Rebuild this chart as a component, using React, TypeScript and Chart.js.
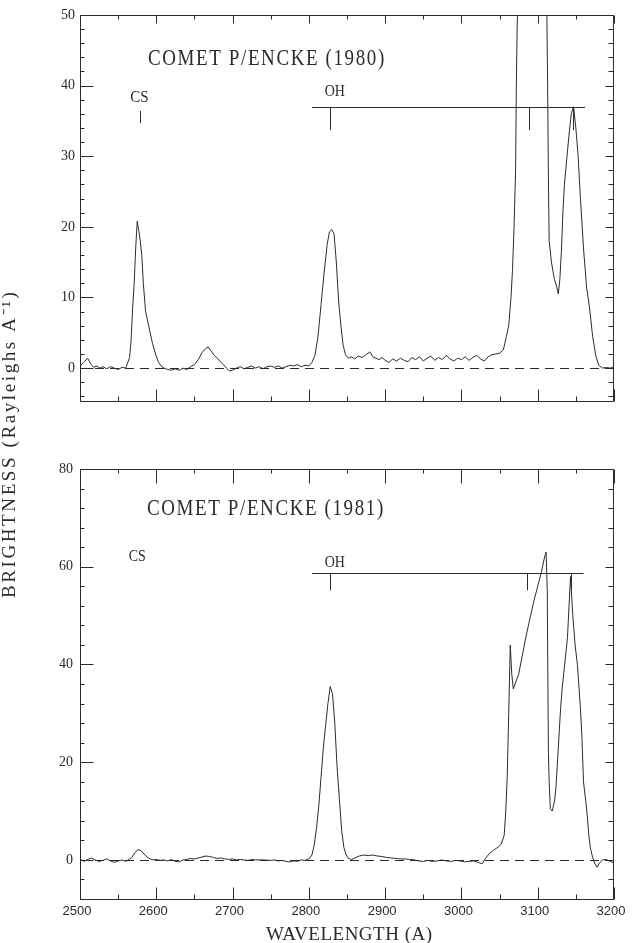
import React, { useEffect, useRef } from "react";
import { Chart, registerables } from "chart.js";

Chart.register(...registerables);

const INK = "#2b2b2b";

// ---- Data: Comet P/Encke 1980 (wavelength in Å, brightness in Rayleighs/Å)
const wavelength1980 = [
  2500, 2505, 2510, 2514, 2518, 2522, 2526, 2530, 2535, 2540, 2545, 2550, 2555, 2560,
  2565, 2567, 2569, 2571, 2573, 2575, 2577, 2579, 2581, 2583, 2586, 2589, 2592, 2595, 2599, 2603, 2608,
  2615, 2620, 2625, 2630, 2635, 2640, 2645, 2650, 2655, 2660, 2665, 2668, 2672, 2676, 2680, 2684, 2688,
  2692, 2696, 2700, 2705, 2710, 2715, 2720, 2725, 2730, 2735, 2740, 2745, 2750, 2755, 2760, 2765, 2770,
  2775, 2780, 2785, 2790, 2795, 2800, 2804, 2808, 2812, 2816, 2820, 2824, 2827, 2830, 2833, 2836, 2839,
  2842, 2845, 2848, 2852, 2856, 2860, 2865, 2870, 2875, 2880, 2884, 2888, 2892, 2896, 2900, 2905, 2910,
  2915, 2920, 2925, 2930, 2935, 2940, 2945, 2950, 2955, 2960, 2965, 2970, 2975, 2980, 2985, 2990, 2995,
  3000, 3005, 3010, 3015, 3020, 3025, 3030, 3035, 3040, 3045, 3050, 3055, 3059, 3062, 3065, 3067, 3069,
  3071, 3072, 3073, 3075, 3085, 3095, 3105, 3110, 3112, 3113, 3114, 3115, 3118, 3122, 3125, 3127, 3129,
  3131, 3133, 3135, 3138, 3141, 3144, 3147, 3150, 3153, 3156, 3160, 3164, 3168, 3172, 3176, 3180, 3185,
  3190, 3195, 3200,
];
const brightness1980 = [
  0.3, 0.8, 1.4, 0.6, 0.1, 0.3, 0.0, 0.2, -0.1, 0.2, 0.0, -0.2, 0.1, 0.0,
  1.5, 4.0, 8.5, 12.0, 17.0, 20.8, 19.5, 18.0, 16.0, 12.0, 8.0, 6.5, 5.0, 3.5, 2.0, 0.8, 0.1,
  -0.2, -0.3, -0.1, -0.3, 0.0, -0.2, 0.2, 0.5, 1.2, 2.2, 2.8, 3.0, 2.4, 1.8, 1.4, 0.9, 0.5,
  0.0, -0.4, -0.3, 0.0, 0.2, -0.1, 0.1, 0.3, 0.0, 0.2, -0.1, 0.2, 0.3, 0.1, 0.3, 0.0, 0.2,
  0.4, 0.3, 0.5, 0.2, 0.4, 0.3, 0.8, 1.8, 4.5, 9.0, 13.5, 17.5, 19.3, 19.6, 19.0, 15.0, 9.5,
  6.0, 3.2, 1.9, 1.4, 1.6, 1.3, 1.7, 1.5, 1.9, 2.3, 1.6, 1.4, 1.2, 1.5, 1.1, 0.8, 1.3,
  1.0, 1.4, 1.1, 0.9, 1.5, 1.2, 1.6, 1.0, 1.4, 1.7, 1.1, 1.5, 1.2, 1.8, 1.3, 1.0, 1.4,
  1.2, 1.6, 1.1, 1.5, 1.8, 1.3, 1.0, 1.6, 1.9, 2.0, 2.1, 2.6, 4.5, 6.0, 10.0, 14.0, 20.0,
  28.0, 40.0, 48.0, 56.0, 60.0, 62.0, 60.0, 56.0, 50.0, 40.0, 27.0, 18.0, 15.0, 12.5, 11.5, 10.5, 12.5,
  16.5, 22.0, 26.0, 29.5, 33.0, 36.0, 37.0, 34.0, 30.0, 24.0, 17.0, 11.5, 8.5, 4.5, 1.8, 0.4, 0.0,
  0.1, 0.0, 0.2,
];

// ---- Data: Comet P/Encke 1981
const wavelength1981 = [
  2500, 2505, 2510, 2515, 2520, 2525, 2530, 2535, 2540, 2545, 2550, 2555, 2560, 2565, 2568, 2572, 2576,
  2580, 2584, 2588, 2592, 2596, 2600, 2605, 2610, 2615, 2620, 2625, 2630, 2635, 2640, 2645, 2650, 2655,
  2660, 2665, 2670, 2675, 2680, 2685, 2690, 2695, 2700, 2705, 2710, 2715, 2720, 2725, 2730, 2740, 2750,
  2755, 2760, 2765, 2770, 2775, 2780, 2785, 2790, 2795, 2800, 2804, 2807, 2810, 2813, 2816, 2819, 2822,
  2825, 2828, 2831, 2834, 2837, 2840, 2843, 2846, 2849, 2852, 2856, 2860, 2866, 2872, 2878, 2884, 2890,
  2896, 2902, 2908, 2914, 2920, 2926, 2932, 2938, 2944, 2950, 2956, 2962, 2968, 2974, 2980, 2986, 2992,
  2998, 3004, 3010, 3016, 3022, 3027, 3031, 3036, 3042, 3048, 3052, 3056, 3058, 3060, 3062, 3064, 3066,
  3068, 3075, 3085, 3095, 3105, 3109, 3111, 3112.5, 3114, 3115, 3116.5, 3119, 3122, 3124, 3127, 3130,
  3132, 3135, 3139, 3143, 3146, 3149, 3152, 3156, 3158, 3160, 3163, 3165, 3167, 3169, 3172, 3175, 3178,
  3181, 3185, 3190, 3195, 3200,
];
const brightness1981 = [
  0.2, -0.3, 0.1, 0.4, 0.0, -0.3, -0.1, 0.2, -0.2, -0.5, -0.2, 0.0, -0.3, 0.2, 0.5, 1.5, 2.1,
  1.9, 1.2, 0.6, 0.2, 0.0, 0.1, -0.1, 0.0, -0.2, 0.1, -0.3, -0.4, 0.0, 0.1, 0.3, 0.2, 0.4,
  0.6, 0.8, 0.7, 0.5, 0.3, 0.4, 0.2, 0.1, 0.2, 0.0, 0.1, 0.0, -0.1, 0.1, 0.0, 0.0, -0.1,
  0.0, -0.2, -0.1, -0.3, -0.4, -0.2, -0.3, 0.0, -0.1, 0.2, 1.0, 3.0, 6.5, 11.0, 17.0, 23.0, 27.5,
  32.0, 35.5, 34.0, 28.0, 19.0, 12.5, 6.0, 2.5, 1.0, 0.3, 0.1, 0.4, 0.8, 1.0, 0.9, 1.0, 0.8,
  0.7, 0.5, 0.4, 0.3, 0.2, 0.2, 0.1, 0.0, -0.2, -0.3, -0.1, -0.3, -0.2, 0.0, -0.2, -0.3, -0.1,
  -0.2, -0.4, -0.3, -0.2, -0.5, -0.8, 0.2, 1.2, 2.0, 2.6, 3.2, 5.0, 9.5, 17.0, 30.0, 44.0, 38.0,
  35.0, 38.0, 46.0, 53.0, 59.0, 62.0, 63.0, 55.0, 22.0, 16.0, 10.5, 10.0, 12.0, 15.0, 23.0, 31.0,
  35.0, 39.5, 45.5, 58.0, 50.0, 44.0, 40.0, 31.0, 25.0, 16.0, 12.0, 9.0, 5.0, 2.5, 0.5, -0.8, -1.5,
  -0.6, 0.0, 0.1, -0.3, -0.6,
];

const wavelengthTicks = [2500, 2600, 2700, 2800, 2900, 3000, 3100, 3200];
const brightnessTicks1980 = [0, 10, 20, 30, 40, 50];
const brightnessTicks1981 = [0, 20, 40, 60, 80];
const ohBandTicks1980 = [2828, 3088, 3146];
const ohBandTicks1981 = [2828, 3086, 3143];

type Panel = {
  title: string;
  xs: number[];
  ys: number[];
  yMin: number;
  yMax: number;
  yTicks: number[];
  yMinorStep: number;
  padTop: number;
  padBottom: number;
  showX: boolean;
  labels: { text: string; x: number; y: number; size: number }[];
  csTick: { x: number; from: number; to: number } | null;
  bracket: { from: number; to: number; at: number; drop: number; ticks: number[] };
  titleDx: number;
  titleDy: number;
  yLabelPad: number;
  topTickLen: number;
  yTitle: boolean;
};

const panels: Panel[] = [
  {
    title: "COMET P/ENCKE (1980)",
    xs: wavelength1980,
    ys: brightness1980,
    yMin: -4.8,
    yMax: 50,
    yTicks: brightnessTicks1980,
    yMinorStep: 2,
    padTop: 15,
    padBottom: 498,
    showX: false,
    labels: [
      { text: "CS", x: 2578, y: 37.7, size: 15 },
      { text: "OH", x: 2834, y: 38.6, size: 14 },
    ],
    csTick: { x: 2578, from: 36.4, to: 34.7 },
    bracket: { from: 2804, to: 3162, at: 37.0, drop: 3.3, ticks: ohBandTicks1980 },
    titleDx: 68,
    titleDy: 50,
    yLabelPad: 5,
    topTickLen: 8,
    yTitle: false,
  },
  {
    title: "COMET P/ENCKE (1981)",
    xs: wavelength1981,
    ys: brightness1981,
    yMin: -8.2,
    yMax: 80,
    yTicks: brightnessTicks1981,
    yMinorStep: 4,
    padTop: 469,
    padBottom: 0,
    showX: true,
    labels: [
      { text: "CS", x: 2575, y: 61.2, size: 14 },
      { text: "OH", x: 2834, y: 60.0, size: 14 },
    ],
    csTick: null,
    bracket: { from: 2804, to: 3160, at: 58.7, drop: 3.5, ticks: ohBandTicks1981 },
    titleDx: 67,
    titleDy: 46,
    yLabelPad: 7,
    topTickLen: 14,
    yTitle: true,
  },
];

function drawText(
  ctx: CanvasRenderingContext2D,
  text: string,
  x: number,
  y: number,
  font: string,
  align: CanvasTextAlign = "left",
  sy = 1,
  spacing = "0px"
) {
  ctx.save();
  ctx.translate(x, y);
  ctx.scale(1, sy);
  ctx.font = font;
  ctx.textAlign = align;
  ctx.textBaseline = "alphabetic";
  (ctx as any).letterSpacing = spacing;
  ctx.fillStyle = INK;
  ctx.fillText(text, 0, 0);
  ctx.restore();
}

function makeDecor(p: Panel) {
  return {
    id: "panelDecor",
    beforeDatasetsDraw(chart: any) {
      const { ctx, chartArea: a } = chart;
      const y = chart.scales.y;
      const py = Math.round(y.getPixelForValue(0)) + 0.5;
      ctx.save();
      ctx.strokeStyle = INK;
      ctx.lineWidth = 1;
      ctx.setLineDash([9, 6]);
      ctx.beginPath();
      ctx.moveTo(a.left, py);
      ctx.lineTo(a.right, py);
      ctx.stroke();
      ctx.restore();
    },
    afterDraw(chart: any) {
      const { ctx, chartArea: a } = chart;
      const x = chart.scales.x;
      const y = chart.scales.y;
      const L = Math.round(a.left) + 0.5;
      const R = Math.round(a.right) - 0.5;
      const T = Math.round(a.top) + 0.5;
      const B = Math.round(a.bottom) - 0.5;
      ctx.save();
      ctx.strokeStyle = INK;
      ctx.lineWidth = 1;
      const seg = (x1: number, y1: number, x2: number, y2: number) => {
        ctx.beginPath();
        ctx.moveTo(x1, y1);
        ctx.lineTo(x2, y2);
        ctx.stroke();
      };
      // frame
      seg(L, T, R, T);
      seg(L, B, R, B);
      seg(L, T, L, B);
      seg(R, T, R, B);
      // x ticks
      for (const v of wavelengthTicks) {
        const px = Math.round(x.getPixelForValue(v)) + 0.5;
        seg(px, T, px, T + p.topTickLen);
        seg(px, B, px, B - 12);
      }
      for (let v = 2550; v < 3200; v += 100) {
        const px = Math.round(x.getPixelForValue(v)) + 0.5;
        seg(px, T, px, T + 4);
        seg(px, B, px, B - 5);
      }
      // y ticks
      for (const v of p.yTicks) {
        const py = Math.round(y.getPixelForValue(v)) + 0.5;
        seg(L, py, L + 13, py);
        seg(R, py, R - 8, py);
      }
      for (let v = Math.ceil(p.yMin / p.yMinorStep) * p.yMinorStep; v < p.yMax; v += p.yMinorStep) {
        if (p.yTicks.includes(v)) continue;
        const py = Math.round(y.getPixelForValue(v)) + 0.5;
        seg(L, py, L + 4, py);
        seg(R, py, R - 5, py);
      }
      // OH band bracket
      const bp = Math.round(y.getPixelForValue(p.bracket.at)) + 0.5;
      seg(x.getPixelForValue(p.bracket.from), bp, x.getPixelForValue(p.bracket.to), bp);
      const bt = y.getPixelForValue(p.bracket.at - p.bracket.drop);
      for (const t of p.bracket.ticks) {
        const px = Math.round(x.getPixelForValue(t)) + 0.5;
        seg(px, bp, px, bt);
      }
      if (p.csTick) {
        const px = Math.round(x.getPixelForValue(p.csTick.x)) + 0.5;
        seg(px, y.getPixelForValue(p.csTick.from), px, y.getPixelForValue(p.csTick.to));
      }
      ctx.restore();
      // labels
      for (const l of p.labels) {
        drawText(ctx, l.text, x.getPixelForValue(l.x), y.getPixelForValue(l.y),
          `${l.size}px "Liberation Serif", serif`, "center", 1.15);
      }
      drawText(ctx, p.title, a.left + p.titleDx, a.top + p.titleDy,
        `19px "Liberation Serif", serif`, "left", 1.25, "1.6px");
      if (p.yTitle) {
        ctx.save();
        ctx.translate(15, 598);
        ctx.rotate(-Math.PI / 2);
        ctx.font = `19px "Liberation Serif", serif`;
        (ctx as any).letterSpacing = "2.6px";
        ctx.textAlign = "left";
        ctx.textBaseline = "alphabetic";
        ctx.fillStyle = INK;
        ctx.fillText("BRIGHTNESS (Rayleighs A\u207B\u00B9)", 0, 0);
        ctx.restore();
        drawText(ctx, "WAVELENGTH (A)", 266, 940, `19px "Liberation Serif", serif`, "left", 1, "0.5px");
      }
    },
  };
}

function PanelChart({ p }: { p: Panel }) {
  const ref = useRef<HTMLCanvasElement | null>(null);
  useEffect(() => {
    if (!ref.current) return;
    const chart = new Chart(ref.current, {
      type: "line",
      data: {
        datasets: [
          {
            data: p.xs.map((v, i) => ({ x: v, y: p.ys[i] })),
            borderColor: INK,
            borderWidth: 1,
            pointRadius: 0,
            tension: 0,
            fill: false,
          },
        ],
      },
      options: {
        responsive: false,
        animation: false,
        events: [],
        layout: { padding: { top: p.padTop, bottom: p.padBottom, left: 0, right: 23 } },
        plugins: { legend: { display: false }, tooltip: { enabled: false } },
        scales: {
          x: {
            type: "linear",
            min: 2500,
            max: 3200,
            display: p.showX,
            grid: { display: false, drawTicks: false },
            border: { display: false },
            ticks: {
              font: { family: "Liberation Sans", size: 13 },
              color: INK,
              padding: 4,
              labelOffset: -3,
              maxRotation: 0,
              autoSkip: false,
              callback: (v: any) => String(v),
            },
            afterBuildTicks: (s: any) => {
              s.ticks = wavelengthTicks.map((v) => ({ value: v }));
            },
            afterFit: (s: any) => {
              s.height = 43;
            },
          },
          y: {
            type: "linear",
            min: p.yMin,
            max: p.yMax,
            grid: { display: false, drawTicks: false },
            border: { display: false },
            ticks: {
              font: { family: "Liberation Serif", size: 14 },
              color: INK,
              padding: p.yLabelPad,
              callback: (v: any) => String(v),
            },
            afterBuildTicks: (s: any) => {
              s.ticks = p.yTicks.map((v) => ({ value: v }));
            },
            afterFit: (s: any) => {
              s.width = 80;
            },
          },
        },
      } as any,
      plugins: [makeDecor(p) as any],
    });
    return () => chart.destroy();
  }, [p]);
  return (
    <canvas
      ref={ref}
      width={637}
      height={943}
      style={{ position: "absolute", left: 0, top: 0, width: 637, height: 943 }}
    />
  );
}

export default function App() {
  return (
    <div
      style={{
        position: "fixed",
        left: 0,
        top: 0,
        width: 637,
        height: 943,
        background: "#ffffff",
        overflow: "hidden",
      }}
    >
      {panels.map((p) => (
        <PanelChart key={p.title} p={p} />
      ))}
    </div>
  );
}
